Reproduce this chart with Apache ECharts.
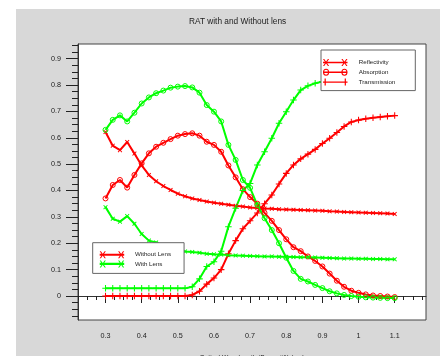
<!DOCTYPE html>
<html>
<head>
<meta charset="utf-8">
<script src="https://cdn.jsdelivr.net/npm/echarts@6/dist/echarts.min.js"></script>
<style>
html,body{margin:0;padding:0;background:#fff;width:440px;height:356px;overflow:hidden;}
#chart{position:absolute;left:16px;top:9px;width:424px;height:347px;background:#d8d8d8;}
</style>
</head>
<body>
<div id="chart"></div>
<script>
// Wavelength (um)
const wl = [0.30,0.32,0.34,0.36,0.38,0.40,0.42,0.44,0.46,0.48,0.50,0.52,0.54,0.56,0.58,0.60,0.62,0.64,0.66,0.68,0.70,0.72,0.74,0.76,0.78,0.80,0.82,0.84,0.86,0.88,0.90,0.92,0.94,0.96,0.98,1.00,1.02,1.04,1.06,1.08,1.10];
// Without lens (red)
const redReflectivity = [0.622,0.570,0.553,0.584,0.540,0.495,0.459,0.435,0.417,0.402,0.388,0.378,0.370,0.364,0.358,0.354,0.350,0.346,0.342,0.339,0.336,0.334,0.332,0.331,0.329,0.328,0.327,0.326,0.325,0.324,0.323,0.321,0.320,0.319,0.318,0.317,0.316,0.315,0.314,0.313,0.311];
const redAbsorption = [0.370,0.421,0.440,0.411,0.459,0.503,0.541,0.566,0.581,0.595,0.608,0.614,0.617,0.608,0.585,0.573,0.547,0.495,0.450,0.405,0.375,0.350,0.315,0.285,0.250,0.215,0.185,0.170,0.150,0.133,0.112,0.085,0.058,0.035,0.020,0.012,0.006,0.002,0.000,-0.002,-0.004];
const redTransmission = [0,0,0,0,0,0,0,0,0,0,0,0,0.004,0.018,0.045,0.068,0.100,0.160,0.210,0.255,0.285,0.315,0.350,0.383,0.425,0.465,0.497,0.520,0.538,0.556,0.578,0.598,0.620,0.643,0.660,0.667,0.672,0.676,0.679,0.682,0.684];
// With lens (green)
const greenReflectivity = [0.337,0.293,0.282,0.303,0.274,0.235,0.210,0.203,0.190,0.180,0.172,0.169,0.167,0.164,0.160,0.158,0.157,0.155,0.154,0.153,0.152,0.151,0.150,0.150,0.149,0.149,0.148,0.147,0.147,0.146,0.145,0.144,0.143,0.142,0.142,0.141,0.141,0.140,0.140,0.139,0.139];
const greenAbsorption = [0.630,0.668,0.685,0.662,0.695,0.730,0.753,0.769,0.779,0.790,0.794,0.796,0.791,0.771,0.724,0.699,0.662,0.573,0.516,0.440,0.410,0.345,0.295,0.250,0.200,0.145,0.095,0.065,0.055,0.042,0.030,0.018,0.010,0.004,0.000,-0.003,-0.005,-0.006,-0.007,-0.008,-0.008];
const greenTransmission = [0.029,0.029,0.029,0.029,0.029,0.029,0.029,0.029,0.029,0.029,0.029,0.029,0.035,0.065,0.112,0.130,0.170,0.263,0.333,0.400,0.427,0.497,0.547,0.598,0.655,0.699,0.743,0.781,0.797,0.807,0.813,0.820,0.828,0.835,0.840,0.845,0.848,0.850,0.852,0.854,0.855];
// Axis ticks
const xMajorTicks = [0.3,0.4,0.5,0.6,0.7,0.8,0.9,1.0,1.1];
const xMinorTicks = [0.225,0.25,0.275,0.3,0.325,0.35,0.375,0.4,0.425,0.45,0.475,0.5,0.525,0.55,0.575,0.6,0.625,0.65,0.675,0.7,0.725,0.75,0.775,0.8,0.825,0.85,0.875,0.9,0.925,0.95,0.975,1.0,1.025,1.05,1.075,1.1,1.125,1.15,1.175];
const yMajorTicks = [0,0.1,0.2,0.3,0.4,0.5,0.6,0.7,0.8,0.9];
const yMinorTicks = [-0.075,-0.05,-0.025,0,0.025,0.05,0.075,0.1,0.125,0.15,0.175,0.2,0.225,0.25,0.275,0.3,0.325,0.35,0.375,0.4,0.425,0.45,0.475,0.5,0.525,0.55,0.575,0.6,0.625,0.65,0.675,0.7,0.725,0.75,0.775,0.8,0.825,0.85,0.875,0.9,0.925,0.95];

const RED = '#ff0000', GREEN = '#00ff00';
const X_MIN = 0.2239, X_MAX = 1.1866, Y_MIN = -0.091, Y_MAX = 0.9556;

const symX = 'path://M0 1.5L1.5 0L5 3.5L8.5 0L10 1.5L6.5 5L10 8.5L8.5 10L5 6.5L1.5 10L0 8.5L3.5 5Z';
const symPlus = 'path://M4.2 0L5.8 0L5.8 4.2L10 4.2L10 5.8L5.8 5.8L5.8 10L4.2 10L4.2 5.8L0 5.8L0 4.2L4.2 4.2Z';
const iconX = 'path://M0 32L280 32L280 48L0 48Z M0 0L14 0L70 80L56 80Z M56 0L70 0L14 80L0 80Z M210 0L224 0L280 80L266 80Z M266 0L280 0L224 80L210 80Z';
const iconX2 = 'path://M0 28L280 28L280 52L0 52Z M0 0L14 0L70 80L56 80Z M56 0L70 0L14 80L0 80Z M210 0L224 0L280 80L266 80Z M266 0L280 0L224 80L210 80Z';
const iconPlus = 'path://M0 32L280 32L280 48L0 48Z M18 0L32 0L32 80L18 80Z M248 0L262 0L262 80L248 80Z';
const iconO = 'path://M0 32L280 32L280 48L0 48Z M0 40A35 40 0 1 1 70 40A35 40 0 1 1 0 40Z M12 40A23 28 0 1 0 58 40A23 28 0 1 0 12 40Z M210 40A35 40 0 1 1 280 40A35 40 0 1 1 210 40Z M222 40A23 28 0 1 0 268 40A23 28 0 1 0 222 40Z';

function pairs(arr){ return wl.map((x,i)=>[x, arr[i]]); }
function mkSeries(name, arr, color, kind){
  const s = {
    name: name, type: 'line', data: pairs(arr), animation: false,
    lineStyle: {color: color, width: 2},
    emphasis: {disabled: true}
  };
  if (kind === 'x') { s.symbol = symX; s.symbolSize = 4.5; s.itemStyle = {color: color}; }
  else if (kind === 'o') { s.symbol = 'circle'; s.symbolSize = 5; s.itemStyle = {color: 'rgba(0,0,0,0)', borderColor: color, borderWidth: 1}; }
  else { s.symbol = symPlus; s.symbolSize = 6.5; s.itemStyle = {color: color}; }
  return s;
}

const FONT = 'Liberation Sans';
const chart = echarts.init(document.getElementById('chart'), null, {renderer: 'canvas'});
chart.setOption({
  backgroundColor: 'transparent',
  animation: false,
  title: {
    text: 'RAT with and Without lens', left: 173, top: 8.5, padding: 0,
    textStyle: {fontFamily: FONT, fontSize: 8.3, fontWeight: 'normal', color: '#222'}
  },
  grid: {left: 62, top: 35, width: 348, height: 276, outerBoundsMode: 'none', containLabel: false,
         show: true, backgroundColor: '#fff', borderColor: '#444', borderWidth: 1},
  xAxis: [{
    type: 'value', min: X_MIN, max: X_MAX,
    name: 'Optical Wavelength (Beam #1) (um)', nameLocation: 'middle', nameGap: 35,
    nameTextStyle: {fontFamily: FONT, fontSize: 6.6, color: '#222'},
    axisLine: {show: true, lineStyle: {color: '#333', width: 1}},
    axisTick: {show: true, customValues: xMajorTicks, length: 7, lineStyle: {color: '#222', width: 1}},
    axisLabel: {customValues: xMajorTicks, margin: 13, fontFamily: FONT, fontSize: 7.2, color: '#222', formatter: v => String(Math.round(v*10)/10)},
    splitLine: {show: false}
  }, {
    type: 'value', min: X_MIN, max: X_MAX, position: 'bottom',
    axisLine: {show: false},
    axisTick: {show: true, customValues: xMinorTicks, length: 4, lineStyle: {color: '#222', width: 1}},
    axisLabel: {show: false}, splitLine: {show: false}
  }],
  yAxis: [{
    type: 'value', min: Y_MIN, max: Y_MAX,
    axisLine: {show: true, lineStyle: {color: '#333', width: 1}},
    axisTick: {show: true, customValues: yMajorTicks, length: 12, lineStyle: {color: '#222', width: 1}},
    axisLabel: {customValues: yMajorTicks, margin: 17, fontFamily: FONT, fontSize: 7.2, color: '#222', formatter: v => String(Math.round(v*10)/10)},
    splitLine: {show: false}
  }, {
    type: 'value', min: Y_MIN, max: Y_MAX, position: 'left',
    axisLine: {show: false},
    axisTick: {show: true, customValues: yMinorTicks, length: 6, lineStyle: {color: '#222', width: 1}},
    axisLabel: {show: false}, splitLine: {show: false}
  }],
  legend: [{
    orient: 'vertical', left: 305, top: 41, padding: [9, 20, 5, 2],
    itemWidth: 29, itemHeight: 7, itemGap: 2.8, selectedMode: false,
    backgroundColor: '#fff', borderColor: '#666', borderWidth: 1,
    textStyle: {fontFamily: FONT, fontSize: 6.2, color: '#222', padding: [0, 0, 0, 4]},
    data: [
      {name: 'Reflectivity', icon: iconX, itemStyle: {color: RED, borderWidth: 0}},
      {name: 'Absorption', icon: iconO, itemStyle: {color: RED, borderWidth: 0}},
      {name: 'Transmission', icon: iconPlus, itemStyle: {color: RED, borderWidth: 0}}
    ]
  }, {
    orient: 'vertical', left: 76.7, top: 233.7, padding: [8.5, 13, 6, 7],
    itemWidth: 30, itemHeight: 7, itemGap: 2.2, selectedMode: false,
    backgroundColor: '#fff', borderColor: '#666', borderWidth: 1,
    textStyle: {fontFamily: FONT, fontSize: 6.2, color: '#222', padding: [0, 0, 0, 3]},
    data: [
      {name: 'Without Lens', icon: iconX2, itemStyle: {color: RED, borderWidth: 0}},
      {name: 'With Lens', icon: iconX2, itemStyle: {color: GREEN, borderWidth: 0}}
    ]
  }],
  series: [
    mkSeries('Reflectivity', redReflectivity, RED, 'x'),
    mkSeries('Absorption', redAbsorption, RED, 'o'),
    mkSeries('Transmission', redTransmission, RED, '+'),
    mkSeries('Reflectivity (With Lens)', greenReflectivity, GREEN, 'x'),
    mkSeries('Absorption (With Lens)', greenAbsorption, GREEN, 'o'),
    mkSeries('Transmission (With Lens)', greenTransmission, GREEN, '+'),
    {name: 'Without Lens', type: 'line', data: [], itemStyle: {color: RED}},
    {name: 'With Lens', type: 'line', data: [], itemStyle: {color: GREEN}}
  ]
});
</script>
</body>
</html>
